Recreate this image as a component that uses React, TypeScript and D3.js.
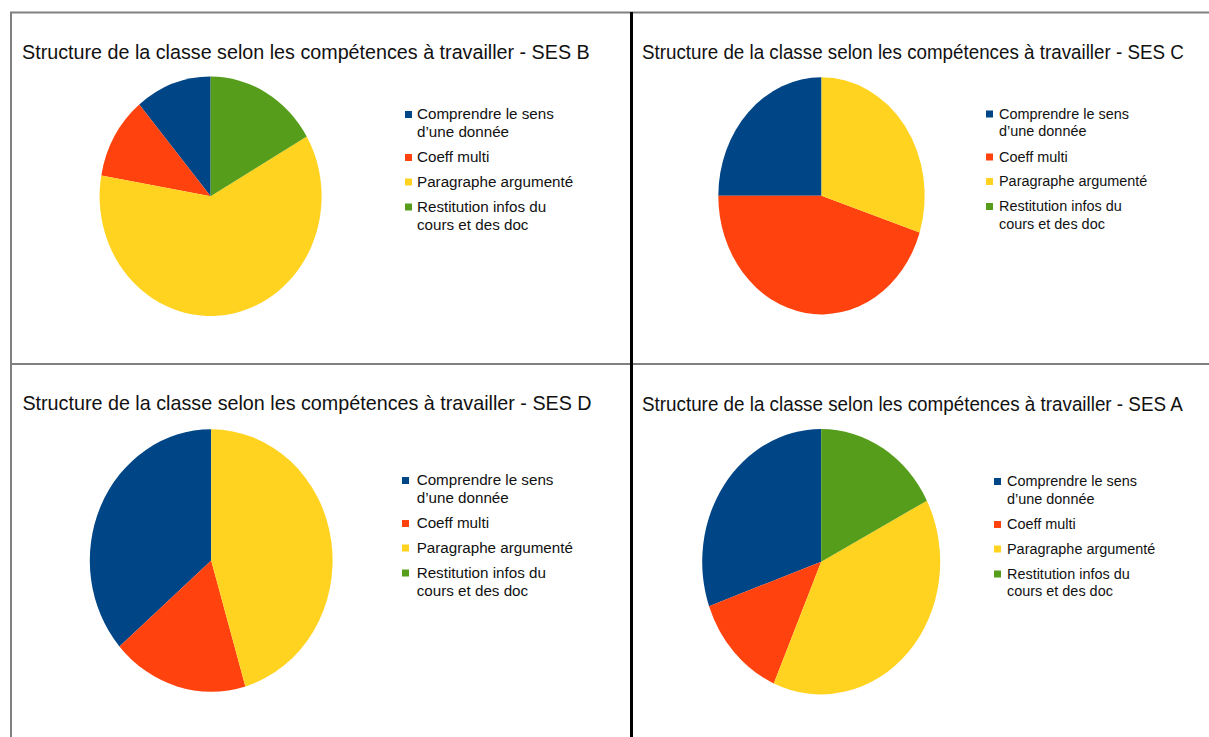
import React, { useLayoutEffect, useRef } from "react";
import * as d3 from "d3";

const categories = ["Comprendre le sens", "Coeff multi", "Paragraphe argumenté", "Restitution infos du"];
const categorySecondLines = ["d’une donnée", "", "", "cours et des doc"];
const colors = ["#004586", "#ff420e", "#ffd320", "#579d1c"];

const titleB = "Structure de la classe selon les compétences à travailler - SES B";
const titleC = "Structure de la classe selon les compétences à travailler - SES C";
const titleD = "Structure de la classe selon les compétences à travailler - SES D";
const titleA = "Structure de la classe selon les compétences à travailler - SES A";

const sesB = [2, 2, 11, 3];
const sesC = [5, 9, 6, 0];
const sesD = [4, 2, 5, 0];
const sesA = [7, 3, 9, 4];

type Panel = {
  title: string;
  values: number[];
  titleX: number;
  titleY: number;
  titleLen: number;
  cx: number;
  cy: number;
  rx: number;
  ry: number;
  sqX: number;
  textX: number;
  legY: number;
  sx: number;
};

const panels: Panel[] = [
  { title: titleB, values: sesB, titleX: 22, titleY: 58.5, titleLen: 567.5, cx: 210.6, cy: 196.3, rx: 111, ry: 119.7, sqX: 405, textX: 417, legY: 119, sx: 1 },
  { title: titleC, values: sesC, titleX: 642, titleY: 59, titleLen: 541.5, cx: 821.5, cy: 195.8, rx: 103.2, ry: 118.6, sqX: 986, textX: 999, legY: 118.5, sx: 0.95 },
  { title: titleD, values: sesD, titleX: 22.4, titleY: 410, titleLen: 569.4, cx: 211.2, cy: 560.5, rx: 121.4, ry: 131.2, sqX: 402, textX: 416.7, legY: 485, sx: 1 },
  { title: titleA, values: sesA, titleX: 642, titleY: 411, titleLen: 540.6, cx: 821.2, cy: 561.7, rx: 119, ry: 132.7, sqX: 994, textX: 1007, legY: 486, sx: 0.95 },
];

const entryOffsets = [0, 43, 67.5, 92.5];
const secondLineGap = 18;

function FittedTitle({ p }: { p: Panel }) {
  const gRef = useRef<SVGGElement>(null);
  const tRef = useRef<SVGTextElement>(null);
  useLayoutEffect(() => {
    if (!tRef.current || !gRef.current) return;
    const w = tRef.current.getComputedTextLength();
    const s = w > 0 ? p.titleLen / w : 1;
    gRef.current.setAttribute("transform", `translate(${p.titleX},${p.titleY}) scale(${s},1)`);
  }, [p]);
  return (
    <g ref={gRef} transform={`translate(${p.titleX},${p.titleY}) scale(0.93,1)`}>
      <text
        ref={tRef}
        x={0}
        y={0}
        fontFamily="Liberation Sans, Arial, sans-serif"
        fontSize={20.5}
        fill="#111"
      >
        {p.title}
      </text>
    </g>
  );
}

function PiePanel({ p }: { p: Panel }) {
  const pie = d3
    .pie<number>()
    .sort(null)
    .value((d) => d)
    .startAngle(0)
    .endAngle(-2 * Math.PI);
  const arcs = pie(p.values);
  const arc = d3.arc<d3.PieArcDatum<number>>().innerRadius(0).outerRadius(p.ry);
  return (
    <g>
      <FittedTitle p={p} />
      <g transform={`translate(${p.cx},${p.cy}) scale(${p.rx / p.ry},1)`}>
        {arcs.map((a, i) =>
          a.value > 0 ? <path key={i} d={arc(a) || ""} fill={colors[i]} /> : null
        )}
      </g>
      {categories.map((c, i) => {
        const y = p.legY + entryOffsets[i];
        return (
          <g key={c}>
            <rect x={p.sqX} y={y - 8} width={7} height={7} fill={colors[i]} />
            <g transform={`translate(${p.textX},${y}) scale(${p.sx},1)`}>
              <text
                x={0}
                y={0}
                fontFamily="Liberation Sans, Arial, sans-serif"
                fontSize={15.2}
                fill="#111"
              >
                {c}
              </text>
              {categorySecondLines[i] ? (
                <text
                  x={0}
                  y={secondLineGap}
                  fontFamily="Liberation Sans, Arial, sans-serif"
                  fontSize={15.2}
                  fill="#111"
                >
                  {categorySecondLines[i]}
                </text>
              ) : null}
            </g>
          </g>
        );
      })}
    </g>
  );
}

export default function App() {
  return (
    <svg
      width={1209}
      height={737}
      style={{ position: "absolute", left: 0, top: 0, background: "#fff" }}
    >
      <rect x={0} y={0} width={1209} height={737} fill="#fff" />
      {panels.map((p, i) => (
        <PiePanel key={i} p={p} />
      ))}
      <line x1={10} y1={12.5} x2={1209} y2={12.5} stroke="#808080" strokeWidth={2} />
      <line x1={11} y1={12} x2={11} y2={737} stroke="#808080" strokeWidth={2} />
      <line x1={10} y1={364} x2={1209} y2={364} stroke="#808080" strokeWidth={2} />
      <line x1={631.5} y1={12} x2={631.5} y2={737} stroke="#000" strokeWidth={3} />
    </svg>
  );
}
